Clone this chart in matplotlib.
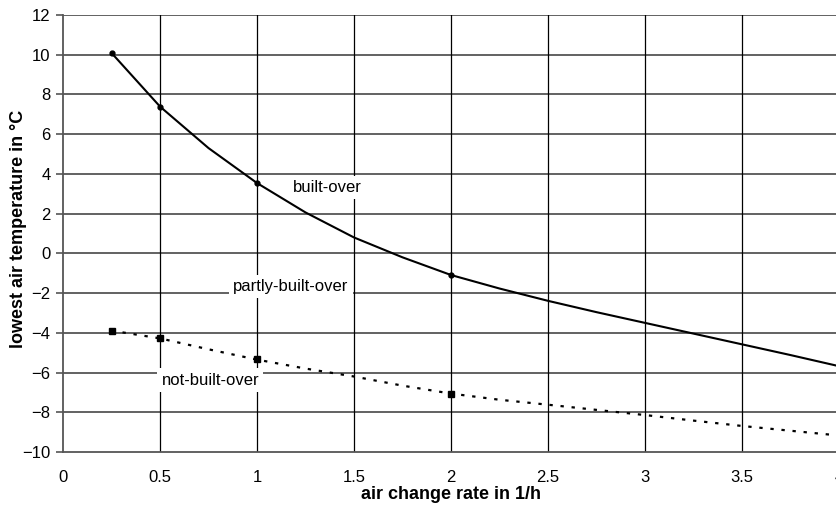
import numpy as np
import matplotlib.pyplot as plt

plt.rcParams['font.family'] = ['Liberation Sans', 'DejaVu Sans']

# measured points
rate_pts = [0.25, 0.5, 1, 2]
built_pts = [10.09, 7.39, 3.54, -1.09]
notbuilt_pts = [-3.89, -4.25, -5.33, -7.08]

# trend curves
rate_curve = [0.25, 0.5, 0.75, 1, 1.25, 1.5, 1.75, 2, 2.25, 2.5, 2.75, 3, 3.25, 3.5, 3.75, 4]
built_curve = [10.09, 7.39, 5.3, 3.54, 2.06, 0.8, -0.2, -1.09, -1.77, -2.39, -2.96,
               -3.5, -4.04, -4.58, -5.12, -5.68]
notbuilt_curve = [-3.89, -4.28, -4.83, -5.35, -5.8, -6.2, -6.66, -7.06, -7.37, -7.62,
                  -7.88, -8.14, -8.42, -8.69, -8.93, -9.17]

fig = plt.figure(figsize=(8.36, 5.09), dpi=100)
ax = fig.add_axes([0.0754, 0.112, 0.9282, 0.8585])

for yv in np.arange(-8, 13, 2):
    ax.axhline(yv, color='#555555', lw=1.3, zorder=1)
for xv in np.arange(0.5, 4.0, 0.5):
    ax.axvline(xv, color='black', lw=0.9, zorder=1)

ax.plot(rate_curve, built_curve, color='black', lw=1.5, zorder=3)
ax.plot(rate_pts, built_pts, 'o', color='black', ms=3.5, zorder=4)
ax.plot(rate_curve, notbuilt_curve, color='black', lw=1.6, ls=(0, (1.5, 3.5)), zorder=3)
ax.plot(rate_pts, notbuilt_pts, 's', color='black', ms=4, zorder=4)

box = dict(facecolor='white', edgecolor='none', pad=3)
ax.text(1.36, 3.3, 'built-over', fontsize=12, ha='center', va='center', bbox=box, zorder=5)
ax.text(1.175, -1.68, 'partly-built-over', fontsize=12, ha='center', va='center', bbox=box, zorder=5)
ax.text(0.76, -6.38, 'not-built-over', fontsize=12, ha='center', va='center', bbox=box, zorder=5)

ax.set_xlim(0, 4)
ax.set_ylim(-10, 12)
ax.set_xticks(np.arange(0, 4.01, 0.5))
ax.set_xticklabels(['0', '0.5', '1', '1.5', '2', '2.5', '3', '3.5', '4'])
ax.set_yticks(np.arange(-10, 13, 2))
ax.tick_params(axis='x', length=0, pad=13, labelsize=12)
ax.tick_params(axis='y', length=5, width=1.2, color='#555555', pad=4, labelsize=12)

for s in ['top', 'right']:
    ax.spines[s].set_visible(False)
for s in ['left', 'bottom']:
    ax.spines[s].set_color('#555555')
    ax.spines[s].set_linewidth(1.3)

ax.set_xlabel('air change rate in 1/h', fontsize=13, fontweight='bold', labelpad=1)
ax.set_ylabel('lowest air temperature in °C', fontsize=13, fontweight='bold')
ax.yaxis.set_label_coords(-0.046, 0.51)

plt.savefig('out.png', dpi=100)
